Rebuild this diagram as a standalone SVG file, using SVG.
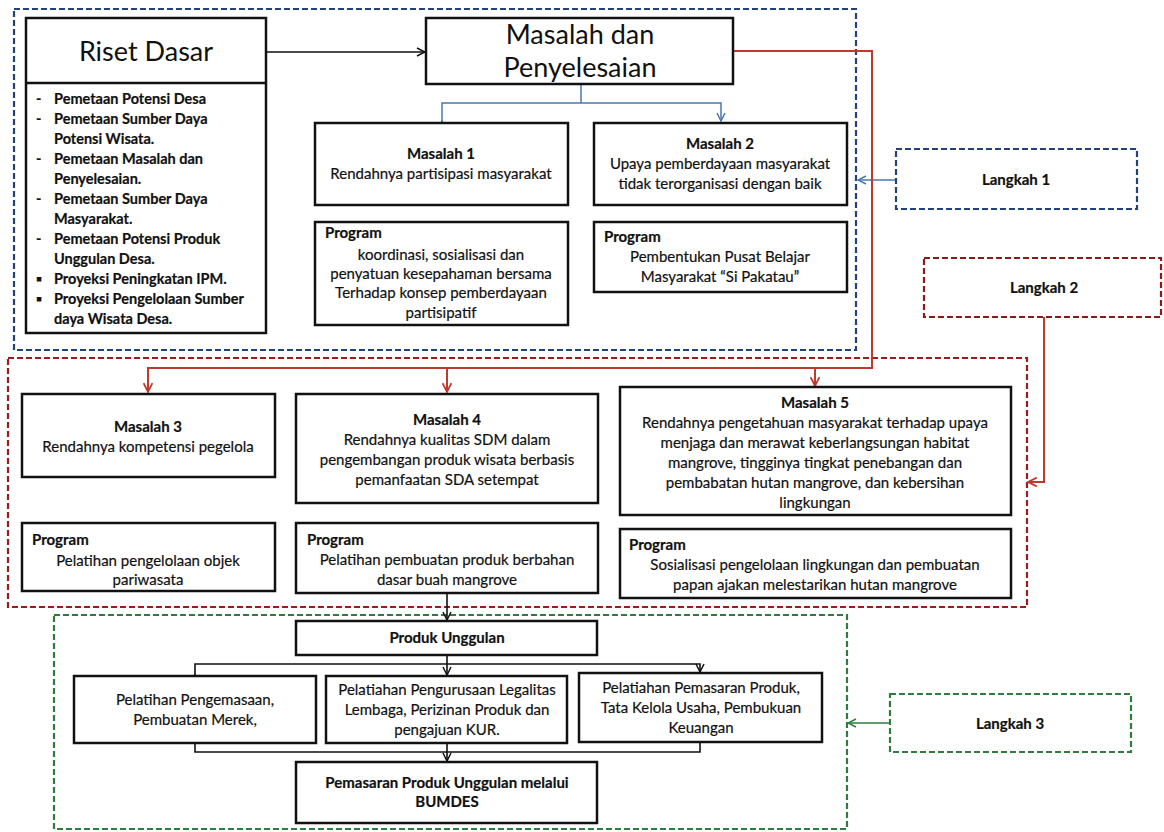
<svg xmlns="http://www.w3.org/2000/svg" width="1164" height="832" viewBox="0 0 1164 832">
<defs>
<style>
.box{fill:#fff;stroke:#111;stroke-width:2.5}
.dz{fill:none;stroke-width:2.2;stroke-dasharray:6 3}
.t{font-family:Lato,"Liberation Sans",sans-serif;font-size:15px;fill:#111;text-anchor:middle;stroke:#111;stroke-width:0.2}
.b{font-weight:bold}
.l{text-anchor:start}
.s{font-size:14.5px}
.big{font-family:Lato,"Liberation Sans",sans-serif;font-size:27px;fill:#111;text-anchor:middle}
.cb{fill:none;stroke:#4a78b0;stroke-width:1.5}
.cr{fill:none;stroke:#c0392f;stroke-width:2}
.ck{fill:none;stroke:#111;stroke-width:1.6}
.cg{fill:none;stroke:#2e7d3e;stroke-width:1.5}
</style>
<marker id="ab" viewBox="0 0 10 10" refX="9" refY="5" markerWidth="10" markerHeight="10" markerUnits="userSpaceOnUse" orient="auto"><path d="M1,1 L9,5 L1,9" fill="none" stroke="#4a78b0" stroke-width="1.5"/></marker>
<marker id="ar" viewBox="0 0 10 10" refX="9" refY="5" markerWidth="11" markerHeight="11" markerUnits="userSpaceOnUse" orient="auto"><path d="M1,1 L9,5 L1,9" fill="none" stroke="#c0392f" stroke-width="1.6"/></marker>
<marker id="ak" viewBox="0 0 10 10" refX="9" refY="5" markerWidth="10" markerHeight="10" markerUnits="userSpaceOnUse" orient="auto"><path d="M1,1 L9,5 L1,9" fill="none" stroke="#111" stroke-width="1.5"/></marker>
<marker id="ag" viewBox="0 0 10 10" refX="9" refY="5" markerWidth="10" markerHeight="10" markerUnits="userSpaceOnUse" orient="auto"><path d="M1,1 L9,5 L1,9" fill="none" stroke="#2e7d3e" stroke-width="1.5"/></marker>
</defs>
<rect width="1164" height="832" fill="#fff"/>

<g id="containers">
<rect class="dz" x="14" y="9" width="842" height="341" stroke="#24427a"/>
<rect class="dz" x="8" y="358" width="1019" height="249" stroke="#9b1c1c"/>
<rect class="dz" x="54" y="615" width="793" height="214" stroke="#2e7d3e"/>
</g>

<g id="connectors">
<line class="ck" x1="266" y1="52" x2="425" y2="52" marker-end="url(#ak)"/>
<polyline class="cb" points="581,84 581,103"/>
<polyline class="cb" points="442,121 442,103 721,103 721,121" marker-start="url(#ab)" marker-end="url(#ab)"/>
<line class="cb" x1="896" y1="180" x2="858" y2="180" marker-end="url(#ab)"/>
<polyline class="cr" points="734,51 872,51 872,368 148,368 148,392" marker-end="url(#ar)"/>
<line class="cr" x1="447" y1="368" x2="447" y2="392" marker-end="url(#ar)"/>
<line class="cr" x1="815" y1="368" x2="815" y2="386" marker-end="url(#ar)"/>
<polyline class="cr" points="1044,317 1044,482 1028,482" marker-end="url(#ar)"/>
<line class="ck" x1="447" y1="593" x2="447" y2="620" marker-end="url(#ak)"/>
<polyline class="ck" points="447,655 447,664"/>
<polyline class="ck" points="195,675 195,664 700,664 700,672" marker-start="url(#ak)" marker-end="url(#ak)"/>
<line class="ck" x1="447" y1="664" x2="447" y2="675" marker-end="url(#ak)"/>
<polyline class="ck" points="195,743 195,752 700,752 700,742"/>
<line class="ck" x1="447" y1="743" x2="447" y2="761" marker-end="url(#ak)"/>
<line class="cg" x1="890" y1="723" x2="848" y2="723" marker-end="url(#ag)"/>
</g>

<g id="riset-dasar">
<rect class="box" x="26" y="18" width="240" height="315"/>
<line x1="26" y1="83" x2="266" y2="83" stroke="#111" stroke-width="2.5"/>
<text class="big" x="146" y="61">Riset Dasar</text>
<g class="t b l s">
<text x="36" y="104">-</text><text x="54" y="104">Pemetaan Potensi Desa</text>
<text x="36" y="124">-</text><text x="54" y="124">Pemetaan Sumber Daya</text>
<text x="54" y="144">Potensi Wisata.</text>
<text x="36" y="164">-</text><text x="54" y="164">Pemetaan Masalah dan</text>
<text x="54" y="184">Penyelesaian.</text>
<text x="36" y="204">-</text><text x="54" y="204">Pemetaan Sumber Daya</text>
<text x="54" y="224">Masyarakat.</text>
<text x="36" y="244">-</text><text x="54" y="244">Pemetaan Potensi Produk</text>
<text x="54" y="264">Unggulan Desa.</text>
<text x="36" y="284">▪</text><text x="54" y="284">Proyeksi Peningkatan IPM.</text>
<text x="36" y="304">▪</text><text x="54" y="304">Proyeksi Pengelolaan Sumber</text>
<text x="54" y="324">daya Wisata Desa.</text>
</g>
</g>

<g id="masalah-penyelesaian">
<rect class="box" x="426" y="18" width="307" height="66"/>
<text class="big" x="580" y="44">Masalah dan</text>
<text class="big" x="580" y="77">Penyelesaian</text>
</g>

<g id="masalah-1">
<rect class="box" x="315" y="123" width="253" height="82"/>
<text class="t b" x="441" y="159">Masalah 1</text>
<text class="t" x="441" y="179">Rendahnya partisipasi masyarakat</text>
</g>

<g id="masalah-2">
<rect class="box" x="594" y="123" width="253" height="82"/>
<text class="t b" x="720" y="149">Masalah 2</text>
<text class="t" x="720" y="169">Upaya pemberdayaan masyarakat</text>
<text class="t" x="720" y="189">tidak terorganisasi dengan baik</text>
</g>

<g id="program-1">
<rect class="box" x="315" y="222" width="253" height="103"/>
<text class="t b l" x="325" y="238">Program</text>
<text class="t" x="441" y="260">koordinasi, sosialisasi dan</text>
<text class="t" x="441" y="279">penyatuan kesepahaman bersama</text>
<text class="t" x="441" y="298">Terhadap konsep pemberdayaan</text>
<text class="t" x="441" y="318">partisipatif</text>
</g>

<g id="program-2">
<rect class="box" x="594" y="222" width="253" height="70"/>
<text class="t b l" x="604" y="242">Program</text>
<text class="t" x="720" y="262">Pembentukan Pusat Belajar</text>
<text class="t" x="720" y="282">Masyarakat “Si Pakatau”</text>
</g>

<g id="langkah-1">
<rect class="dz" x="896" y="149" width="241" height="60" stroke="#24427a"/>
<text class="t b" x="1016" y="185">Langkah 1</text>
</g>

<g id="langkah-2">
<rect class="dz" x="924" y="258" width="237" height="59" stroke="#8b1a1a"/>
<text class="t b" x="1044" y="293">Langkah 2</text>
</g>

<g id="masalah-3">
<rect class="box" x="22" y="394" width="253" height="83"/>
<text class="t b" x="148" y="432">Masalah 3</text>
<text class="t" x="148" y="452">Rendahnya kompetensi pegelola</text>
</g>

<g id="masalah-4">
<rect class="box" x="296" y="394" width="302" height="109"/>
<text class="t b" x="447" y="425">Masalah 4</text>
<text class="t" x="447" y="445">Rendahnya kualitas SDM dalam</text>
<text class="t" x="447" y="465">pengembangan produk wisata berbasis</text>
<text class="t" x="447" y="485">pemanfaatan SDA setempat</text>
</g>

<g id="masalah-5">
<rect class="box" x="620" y="387" width="391" height="128"/>
<text class="t b" x="815" y="408">Masalah 5</text>
<text class="t" x="815" y="428">Rendahnya pengetahuan masyarakat terhadap upaya</text>
<text class="t" x="815" y="448">menjaga dan merawat keberlangsungan habitat</text>
<text class="t" x="815" y="468">mangrove, tingginya tingkat penebangan dan</text>
<text class="t" x="815" y="488">pembabatan hutan mangrove, dan kebersihan</text>
<text class="t" x="815" y="508">lingkungan</text>
</g>

<g id="program-3">
<rect class="box" x="22" y="523" width="253" height="68"/>
<text class="t b l" x="32" y="545">Program</text>
<text class="t" x="148" y="566">Pelatihan pengelolaan objek</text>
<text class="t" x="148" y="585">pariwasata</text>
</g>

<g id="program-4">
<rect class="box" x="296" y="523" width="302" height="70"/>
<text class="t b l" x="307" y="545">Program</text>
<text class="t" x="447" y="565">Pelatihan pembuatan produk berbahan</text>
<text class="t" x="447" y="585">dasar buah mangrove</text>
</g>

<g id="program-5">
<rect class="box" x="620" y="529" width="391" height="69"/>
<text class="t b l" x="629" y="550">Program</text>
<text class="t" x="815" y="570">Sosialisasi pengelolaan lingkungan dan pembuatan</text>
<text class="t" x="815" y="590">papan ajakan melestarikan hutan mangrove</text>
</g>

<g id="produk-unggulan">
<rect class="box" x="296" y="621" width="301" height="34"/>
<text class="t b" x="447" y="643">Produk Unggulan</text>
</g>

<g id="pelatihan-pengemasan">
<rect class="box" x="74" y="676" width="242" height="67"/>
<text class="t" x="195" y="705">Pelatihan Pengemasaan,</text>
<text class="t" x="195" y="725">Pembuatan Merek,</text>
</g>

<g id="pelatihan-legalitas">
<rect class="box" x="326" y="676" width="241" height="67"/>
<text class="t" x="447" y="695">Pelatiahan Pengurusaan Legalitas</text>
<text class="t" x="447" y="715">Lembaga, Perizinan Produk dan</text>
<text class="t" x="447" y="735">pengajuan KUR.</text>
</g>

<g id="pelatihan-pemasaran">
<rect class="box" x="579" y="673" width="243" height="69"/>
<text class="t" x="701" y="693">Pelatiahan Pemasaran Produk,</text>
<text class="t" x="701" y="713">Tata Kelola Usaha, Pembukuan</text>
<text class="t" x="701" y="733">Keuangan</text>
</g>

<g id="pemasaran-bumdes">
<rect class="box" x="296" y="762" width="301" height="61"/>
<text class="t b" x="447" y="788">Pemasaran Produk Unggulan melalui</text>
<text class="t b" x="447" y="807">BUMDES</text>
</g>

<g id="langkah-3">
<rect class="dz" x="890" y="694" width="241" height="58" stroke="#2e7d3e"/>
<text class="t b" x="1010" y="729">Langkah 3</text>
</g>
</svg>
